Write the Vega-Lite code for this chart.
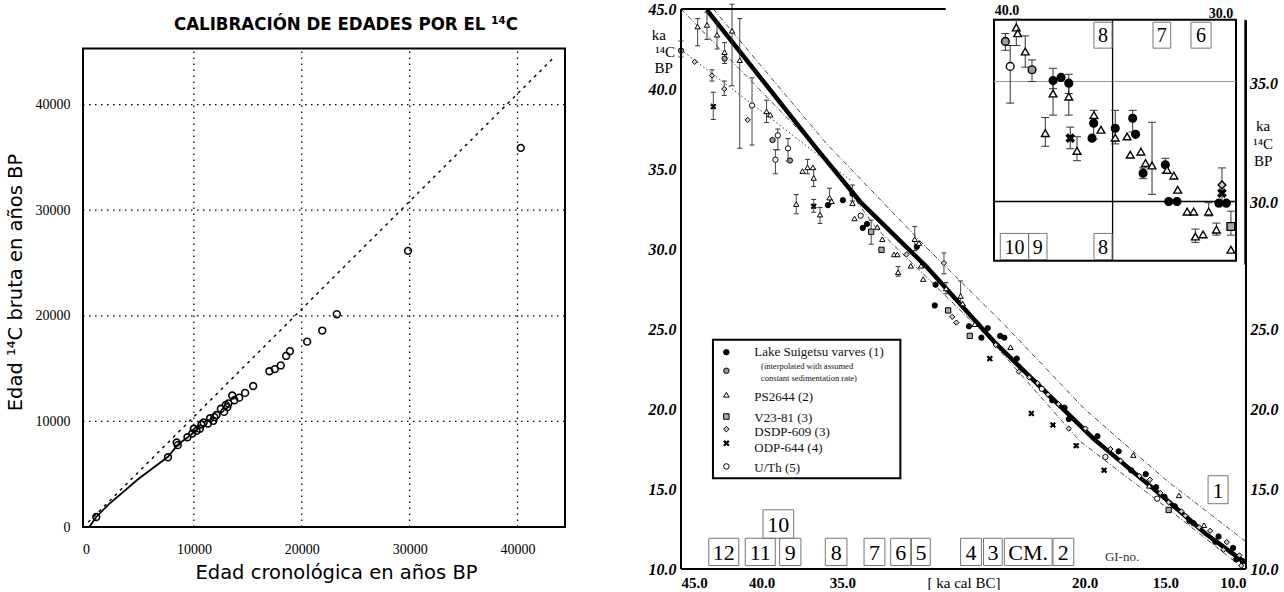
{
"$schema": "https://vega.github.io/schema/vega-lite/v6.json",
"background": "white",
"padding": {"left": 5, "top": 0, "right": 0, "bottom": 0},
"spacing": 82,
"columns": 2,
"align": "none",
"config": {"view": {"stroke": null}, "text": {"font": "Liberation Serif", "color": "black"}},
"datasets": {
"lpts": [{"x":950,"y":950},{"x":7600,"y":6600},{"x":8400,"y":8000},{"x":8500,"y":7750},{"x":9400,"y":8500},{"x":9850,"y":8850},{"x":10000,"y":9300},{"x":10250,"y":9100},{"x":10550,"y":9300},{"x":10700,"y":9700},{"x":10900,"y":9900},{"x":11300,"y":9800},{"x":11500,"y":10300},{"x":11900,"y":10400},{"x":11800,"y":10050},{"x":12100,"y":10600},{"x":12500,"y":11200},{"x":12800,"y":10900},{"x":12950,"y":11550},{"x":13200,"y":11700},{"x":13100,"y":11350},{"x":13550,"y":12450},{"x":13750,"y":12000},{"x":14200,"y":12250},{"x":14750,"y":12700},{"x":15500,"y":13350},{"x":17000,"y":14750},{"x":17500,"y":14950},{"x":18050,"y":15300},{"x":18550,"y":16200},{"x":18900,"y":16650},{"x":20500,"y":17550},{"x":21900,"y":18600},{"x":23250,"y":20150},{"x":29850,"y":26150},{"x":40300,"y":35900}],
"ldash": [{"x":200,"y":450},{"x":43500,"y":44600}],
"lsolid": [{"x":300,"y":0},{"x":950,"y":950},{"x":2100,"y":2150},{"x":4850,"y":4550},{"x":7600,"y":6650},{"x":8500,"y":7800},{"x":9500,"y":8550},{"x":10500,"y":9400}],
"lgx": [{"x":10000,"y":0,"y2":45300},{"x":20000,"y":0,"y2":45300},{"x":30000,"y":0,"y2":45300},{"x":40000,"y":0,"y2":45300}],
"lgy": [{"x":-280,"x2":44400,"y":10000},{"x":-280,"x2":44400,"y":20000},{"x":-280,"x2":44400,"y":30000},{"x":-280,"x2":44400,"y":40000}],
"lframe": [{"x":-280,"x2":44400,"y":0,"y2":45300}],
"vgrid": [{"x":40},{"x":35},{"x":30},{"x":25},{"x":20},{"x":15}],
"hgrid": [{"y":15},{"y":20},{"y":25},{"y":30},{"y":35},{"y":40}],
"frame": [{"x":45,"x2":45,"y":10,"y2":45},{"x":45,"x2":10,"y":10,"y2":10},{"x":10,"x2":10,"y":10,"y2":44.3},{"x":45,"x2":28.6,"y":45,"y2":45}],
"thick": [{"x":43.4,"y":44.95},{"x":36.7,"y":36.4},{"x":33.9,"y":32.95},{"x":29.8,"y":28.9},{"x":25.6,"y":24.2},{"x":19.4,"y":18.1},{"x":15.0,"y":14.4},{"x":12.5,"y":12.2},{"x":10.05,"y":10.4}],
"thin": [{"s":"u","x":43.0,"y":45.0},{"s":"u","x":36.0,"y":36.6},{"s":"u","x":30.0,"y":30.3},{"s":"u","x":25.0,"y":25.3},{"s":"u","x":20.0,"y":20.0},{"s":"u","x":15.0,"y":15.6},{"s":"u","x":10.0,"y":11.7},{"s":"w","x":45.0,"y":45.0},{"s":"w","x":36.4,"y":36.1},{"s":"w","x":32.9,"y":31.3},{"s":"w","x":26.0,"y":24.5},{"s":"w","x":20.3,"y":18.0},{"s":"w","x":15.0,"y":13.9},{"s":"w","x":10.1,"y":10.0}],
"dotl": [{"x":45.0,"y":42.45},{"x":38.64,"y":37.55},{"x":34.5,"y":34.3}],
"rm": [{"x":45.0,"y":42.4,"t":"G","lo":42.0,"hi":43.0},{"x":44.15,"y":41.7,"t":"D"},{"x":43.08,"y":40.84,"t":"D","lo":40.5,"hi":41.2},{"x":42.32,"y":40.0,"t":"D","lo":39.6,"hi":40.5},{"x":43.0,"y":38.9,"t":"X","lo":38.1,"hi":39.8},{"x":43.97,"y":43.9,"t":"T","lo":42.7,"hi":44.4},{"x":43.39,"y":44.0,"t":"T","lo":43.1,"hi":44.8},{"x":42.77,"y":43.39,"t":"T","lo":42.5,"hi":44.2},{"x":42.3,"y":42.3,"t":"T","lo":41.6,"hi":42.9},{"x":42.3,"y":41.9,"t":"G"},{"x":41.84,"y":43.64,"t":"T","lo":40.2,"hi":45.3},{"x":41.36,"y":41.8,"t":"T","lo":36.3,"hi":44.4},{"x":40.6,"y":38.97,"t":"U","lo":36.5,"hi":40.7},{"x":39.7,"y":38.6,"t":"T","lo":37.9,"hi":39.3},{"x":39.47,"y":38.39,"t":"T"},{"x":40.87,"y":38.07,"t":"D"},{"x":39.33,"y":36.81,"t":"G"},{"x":39.0,"y":37.1,"t":"U","lo":36.2,"hi":37.5},{"x":39.15,"y":35.58,"t":"U","lo":34.7,"hi":36.2},{"x":38.37,"y":36.29,"t":"U","lo":35.5,"hi":36.9},{"x":38.25,"y":35.53,"t":"G"},{"x":37.47,"y":34.87,"t":"T"},{"x":37.16,"y":35.1,"t":"T","lo":34.7,"hi":35.6},{"x":36.83,"y":35.1,"t":"T"},{"x":36.78,"y":34.44,"t":"T","lo":33.9,"hi":35.0},{"x":37.86,"y":32.81,"t":"T","lo":32.2,"hi":33.4},{"x":36.78,"y":32.67,"t":"X","lo":32.3,"hi":33.1},{"x":36.39,"y":32.15,"t":"T","lo":31.6,"hi":32.6},{"x":35.8,"y":33.21,"t":"T","lo":32.8,"hi":33.8},{"x":35.67,"y":32.98,"t":"T"},{"x":35.9,"y":32.74,"t":"L"},{"x":34.97,"y":33.05,"t":"L"},{"x":34.38,"y":33.45,"t":"L","lo":33.0,"hi":34.0},{"x":34.38,"y":32.86,"t":"T"},{"x":34.25,"y":31.91,"t":"T"},{"x":33.87,"y":32.08,"t":"U"},{"x":33.74,"y":31.32,"t":"L"},{"x":33.48,"y":31.56,"t":"L"},{"x":33.22,"y":31.08,"t":"S","lo":30.3,"hi":31.8},{"x":32.84,"y":31.37,"t":"T"},{"x":32.53,"y":30.61,"t":"T"},{"x":32.58,"y":29.95,"t":"S"},{"x":31.8,"y":29.66,"t":"T"},{"x":31.6,"y":29.66,"t":"T"},{"x":31.55,"y":28.55,"t":"T","lo":28.3,"hi":28.9},{"x":31.03,"y":29.66,"t":"D"},{"x":30.77,"y":28.95,"t":"T"},{"x":30.52,"y":30.61,"t":"T","lo":29.9,"hi":31.4},{"x":30.39,"y":30.14,"t":"L"},{"x":30.26,"y":30.37,"t":"T"},{"x":30.13,"y":28.95,"t":"T"},{"x":30.0,"y":28.12,"t":"T"},{"x":29.23,"y":27.77,"t":"L"},{"x":28.71,"y":29.12,"t":"D","lo":28.45,"hi":29.75},{"x":28.58,"y":27.53,"t":"T","lo":27.2,"hi":27.9},{"x":29.28,"y":26.47,"t":"L"},{"x":28.45,"y":26.16,"t":"S"},{"x":28.2,"y":25.76,"t":"D"},{"x":27.94,"y":25.4,"t":"D"},{"x":27.68,"y":27.06,"t":"T","lo":26.6,"hi":28.0},{"x":27.55,"y":26.59,"t":"T"},{"x":27.16,"y":25.17,"t":"L"},{"x":27.11,"y":24.57,"t":"S"},{"x":26.39,"y":24.46,"t":"L"},{"x":26.0,"y":25.05,"t":"L"},{"x":26.8,"y":25.3,"t":"T"},{"x":25.23,"y":24.57,"t":"L"},{"x":24.97,"y":24.46,"t":"L"},{"x":25.5,"y":24.0,"t":"D"},{"x":25.87,"y":23.15,"t":"X"},{"x":24.59,"y":23.86,"t":"T"},{"x":24.2,"y":23.15,"t":"L"},{"x":24.07,"y":22.33,"t":"D"},{"x":23.43,"y":21.97,"t":"D"},{"x":22.91,"y":21.62,"t":"D"},{"x":22.65,"y":21.26,"t":"U"},{"x":22.27,"y":20.9,"t":"D"},{"x":22.0,"y":20.55,"t":"L"},{"x":21.62,"y":20.31,"t":"D"},{"x":21.24,"y":20.08,"t":"L"},{"x":23.3,"y":19.72,"t":"X"},{"x":21.96,"y":19.0,"t":"X"},{"x":20.98,"y":18.78,"t":"D"},{"x":20.98,"y":19.37,"t":"L"},{"x":20.52,"y":17.71,"t":"X"},{"x":19.95,"y":18.78,"t":"D"},{"x":19.2,"y":18.3,"t":"L"},{"x":18.4,"y":17.5,"t":"D"},{"x":18.79,"y":16.17,"t":"X"},{"x":18.71,"y":17.0,"t":"U"},{"x":17.89,"y":17.35,"t":"L"},{"x":17.76,"y":16.76,"t":"D"},{"x":16.98,"y":17.12,"t":"T"},{"x":17.11,"y":16.17,"t":"L"},{"x":16.6,"y":15.82,"t":"D"},{"x":16.21,"y":15.93,"t":"L"},{"x":16.0,"y":15.2,"t":"T"},{"x":15.95,"y":15.58,"t":"D"},{"x":15.57,"y":15.11,"t":"L"},{"x":15.5,"y":14.4,"t":"U"},{"x":15.31,"y":14.75,"t":"D"},{"x":15.05,"y":14.51,"t":"L"},{"x":14.79,"y":14.16,"t":"D"},{"x":14.41,"y":13.92,"t":"L"},{"x":14.15,"y":14.6,"t":"T"},{"x":14.79,"y":13.69,"t":"S"},{"x":14.0,"y":13.6,"t":"D"},{"x":13.76,"y":13.33,"t":"D"},{"x":13.5,"y":13.0,"t":"L"},{"x":13.25,"y":12.86,"t":"L"},{"x":12.9,"y":12.6,"t":"D"},{"x":12.6,"y":12.74,"t":"T"},{"x":12.22,"y":12.39,"t":"D"},{"x":11.9,"y":11.7,"t":"L"},{"x":11.7,"y":12.03,"t":"L"},{"x":11.4,"y":11.2,"t":"D"},{"x":11.19,"y":11.68,"t":"D"},{"x":10.8,"y":11.32,"t":"L"},{"x":10.6,"y":10.6,"t":"L"},{"x":10.41,"y":10.85,"t":"D"},{"x":10.3,"y":10.2,"t":"D"},{"x":10.21,"y":10.49,"t":"L"}],
"lgbox": [{"x":43.02,"x2":31.41,"y":24.33,"y2":15.67}],
"lgsym": [{"x":42.19,"y":23.55,"t":"L"},{"x":42.19,"y":22.39,"t":"G"},{"x":42.19,"y":20.89,"t":"T"},{"x":42.19,"y":19.53,"t":"S"},{"x":42.19,"y":18.74,"t":"D"},{"x":42.19,"y":17.86,"t":"X"},{"x":42.19,"y":16.41,"t":"U"}],
"lgtxt": [{"x":40.46,"y":23.55,"label":"Lake Suigetsu varves (1)"},{"x":40.46,"y":20.78,"label":"PS2644 (2)"},{"x":40.46,"y":19.43,"label":"V23-81 (3)"},{"x":40.46,"y":18.59,"label":"DSDP-609 (3)"},{"x":40.46,"y":17.59,"label":"ODP-644 (4)"},{"x":40.46,"y":16.34,"label":"U/Th (5)"}],
"lgnote": [{"x":40.04,"y":22.70,"label":"(interpolated with assumed"},{"x":40.04,"y":21.93,"label":"constant sedimentation rate)"}],
"gibox": [{"x":43.28,"x2":41.42,"y":11.92,"y2":10.22,"cx":42.35,"cy":11.07,"label":"12"},{"x":41.02,"x2":39.16,"y":11.92,"y2":10.22,"cx":40.09,"cy":11.07,"label":"11"},{"x":38.89,"x2":37.57,"y":11.92,"y2":10.22,"cx":38.23,"cy":11.07,"label":"9"},{"x":39.92,"x2":38.02,"y":13.7,"y2":11.92,"cx":38.97,"cy":12.81,"label":"10"},{"x":36.06,"x2":34.72,"y":11.92,"y2":10.22,"cx":35.39,"cy":11.07,"label":"8"},{"x":33.66,"x2":32.37,"y":11.92,"y2":10.22,"cx":33.02,"cy":11.07,"label":"7"},{"x":32.01,"x2":30.77,"y":11.92,"y2":10.22,"cx":31.39,"cy":11.07,"label":"6"},{"x":30.72,"x2":29.56,"y":11.92,"y2":10.22,"cx":30.14,"cy":11.07,"label":"5"},{"x":27.68,"x2":26.39,"y":11.92,"y2":10.22,"cx":27.04,"cy":11.07,"label":"4"},{"x":26.26,"x2":25.1,"y":11.92,"y2":10.22,"cx":25.68,"cy":11.07,"label":"3"},{"x":24.97,"x2":22.01,"y":11.92,"y2":10.22,"cx":23.49,"cy":11.07,"label":"CM."},{"x":21.96,"x2":20.67,"y":11.92,"y2":10.22,"cx":21.32,"cy":11.07,"label":"2"},{"x":12.35,"x2":11.11,"y":15.83,"y2":14.08,"cx":11.73,"cy":14.95,"label":"1"}],
"kal": [{"x":46.38,"y":43.39,"label":"ka"},{"x":45.99,"y":42.34,"label":"¹⁴C"},{"x":46.07,"y":41.34,"label":"BP"}],
"gino": [{"x":17.68,"y":10.78,"label":"GI-no."}],
"ifr": [{"x":40,"x2":30,"y":37.57,"y2":27.53}],
"igk": [{"x":35.1,"x2":35.1,"y":27.53,"y2":37.57},{"x":40,"x2":30,"y":30,"y2":30},{"x":29.63,"x2":29.63,"y":37.57,"y2":27.36}],
"igg": [{"x":40,"x2":30,"y":35,"y2":35}],
"ibox": [{"x":35.87,"x2":35.12,"y":37.47,"y2":36.39,"cx":35.5,"cy":36.93,"label":"8"},{"x":33.43,"x2":32.7,"y":37.47,"y2":36.39,"cx":33.07,"cy":36.93,"label":"7"},{"x":31.86,"x2":31.03,"y":37.47,"y2":36.39,"cx":31.45,"cy":36.93,"label":"6"},{"x":39.74,"x2":38.57,"y":28.67,"y2":27.58,"cx":39.15,"cy":28.12,"label":"10"},{"x":38.57,"x2":37.81,"y":28.67,"y2":27.58,"cx":38.19,"cy":28.12,"label":"9"},{"x":35.87,"x2":35.12,"y":28.67,"y2":27.58,"cx":35.5,"cy":28.12,"label":"8"}],
"ipts": [{"x":39.53,"y":36.67,"t":"G","lo":36.3,"hi":37.0},{"x":39.08,"y":37.25,"t":"T","lo":36.5,"hi":37.6},{"x":39.02,"y":37.01,"t":"T"},{"x":39.33,"y":35.63,"t":"U","lo":34.1,"hi":36.5},{"x":38.71,"y":36.25,"t":"T","lo":35.6,"hi":36.9},{"x":38.43,"y":35.49,"t":"G","lo":35.0,"hi":35.9},{"x":37.56,"y":35.04,"t":"L","lo":34.7,"hi":35.55},{"x":37.23,"y":35.17,"t":"L"},{"x":36.91,"y":34.93,"t":"L","lo":34.5,"hi":35.3},{"x":37.56,"y":34.5,"t":"T","lo":33.6,"hi":35.1},{"x":36.91,"y":34.37,"t":"T","lo":33.6,"hi":34.9},{"x":37.88,"y":32.85,"t":"T","lo":32.3,"hi":33.5},{"x":36.85,"y":32.64,"t":"X","lo":32.2,"hi":33.1},{"x":36.57,"y":32.11,"t":"T","lo":31.7,"hi":32.7},{"x":35.95,"y":32.64,"t":"L"},{"x":35.88,"y":33.26,"t":"L","lo":32.6,"hi":33.8},{"x":35.87,"y":33.6,"t":"T"},{"x":35.58,"y":32.99,"t":"T"},{"x":34.99,"y":33.05,"t":"L","lo":32.4,"hi":33.8},{"x":34.99,"y":32.66,"t":"T"},{"x":34.5,"y":32.71,"t":"T"},{"x":34.27,"y":33.47,"t":"L","lo":32.9,"hi":33.8},{"x":34.15,"y":32.8,"t":"L"},{"x":34.37,"y":31.95,"t":"T"},{"x":33.93,"y":32.08,"t":"T"},{"x":33.84,"y":31.18,"t":"L","lo":30.95,"hi":31.4},{"x":33.74,"y":31.6,"t":"T"},{"x":33.47,"y":31.5,"t":"T","lo":30.3,"hi":33.3},{"x":32.92,"y":31.53,"t":"L","lo":31.2,"hi":31.8},{"x":32.85,"y":31.32,"t":"T"},{"x":32.57,"y":31.08,"t":"T"},{"x":32.41,"y":30.49,"t":"T"},{"x":32.78,"y":30.0,"t":"L"},{"x":32.44,"y":30.0,"t":"L"},{"x":32.02,"y":29.58,"t":"T"},{"x":31.75,"y":29.58,"t":"T"},{"x":31.13,"y":29.58,"t":"T","lo":29.4,"hi":29.95},{"x":31.68,"y":28.54,"t":"T","lo":28.3,"hi":28.85},{"x":31.36,"y":28.63,"t":"T"},{"x":30.81,"y":28.83,"t":"T","lo":28.6,"hi":29.1},{"x":30.71,"y":29.93,"t":"L"},{"x":30.4,"y":29.93,"t":"L"},{"x":30.58,"y":30.69,"t":"D","lo":29.9,"hi":31.4},{"x":30.58,"y":30.35,"t":"X"},{"x":30.21,"y":28.96,"t":"S","lo":28.6,"hi":29.6},{"x":30.21,"y":27.99,"t":"T"}],
"itop": [{"x":39.46,"y":37.92,"label":"40.0"},{"x":30.62,"y":37.83,"label":"30.0"}],
"iright": [{"x":29.42,"y":34.88,"label":"35.0"},{"x":29.42,"y":29.93,"label":"30.0"}],
"ika": [{"x":28.88,"y":33.13,"label":"ka"},{"x":28.88,"y":32.38,"label":"¹⁴C"},{"x":28.88,"y":31.67,"label":"BP"}]
},
"concat": [
{
 "width": 482, "height": 518,
 "title": {"text": "CALIBRACIÓN DE EDADES POR EL ¹⁴C", "font": "DejaVu Sans Condensed", "fontSize": 18.5, "fontWeight": "bold", "offset": -24.5, "anchor": "middle", "frame": "group", "dx": 22, "color": "black"},
 "encoding": {
  "x": {"field": "x", "type": "quantitative", "scale": {"domain": [-280, 44400], "nice": false, "zero": false},
        "axis": {"values": [0, 10000, 20000, 30000, 40000], "format": "d", "title": "Edad cronológica en años BP", "titleX": 253, "grid": false, "domain": false, "ticks": false, "labelFlush": false, "labelFont": "Liberation Sans Narrow", "labelFontSize": 14, "labelPadding": 15, "labelColor": "black", "titleFont": "DejaVu Sans", "titleFontSize": 19.5, "titleFontWeight": "normal", "titlePadding": 7, "titleColor": "black"}},
  "y": {"field": "y", "type": "quantitative", "scale": {"domain": [0, 49050], "nice": false, "zero": false},
        "axis": {"values": [0, 10000, 20000, 30000, 40000], "format": "d", "title": "Edad ¹⁴C bruta en años BP", "titleY": 273, "grid": false, "domain": false, "ticks": false, "labelFont": "Liberation Sans Narrow", "labelFontSize": 14, "labelPadding": 13, "labelColor": "black", "titleFont": "DejaVu Sans", "titleFontSize": 19.5, "titleFontWeight": "normal", "titlePadding": 10, "titleColor": "black"}}
 },
 "layer": [
  {"data": {"name": "lgx"}, "mark": {"type": "rule", "stroke": "black", "strokeWidth": 1.3, "strokeDash": [1.5, 4.5]}, "encoding": {"y2": {"field": "y2"}}},
  {"data": {"name": "lgy"}, "mark": {"type": "rule", "stroke": "black", "strokeWidth": 1.3, "strokeDash": [1.5, 4.5]}, "encoding": {"x2": {"field": "x2"}}},
  {"data": {"name": "lframe"}, "mark": {"type": "rect", "fill": "white", "fillOpacity": 0, "stroke": "black", "strokeWidth": 2}, "encoding": {"x2": {"field": "x2"}, "y2": {"field": "y2"}}},
  {"data": {"name": "ldash"}, "mark": {"type": "line", "stroke": "black", "strokeWidth": 1.4, "strokeDash": [3, 4.5]}},
  {"data": {"name": "lsolid"}, "mark": {"type": "line", "stroke": "black", "strokeWidth": 1.8}},
  {"data": {"name": "lpts"}, "mark": {"type": "point", "shape": "circle", "size": 46, "filled": false, "color": "black", "strokeWidth": 1.6, "opacity": 1}}
 ]
},
{
 "width": 565, "height": 560,
 "resolve": {"scale": {"x": "independent", "y": "independent"}},
 "layer": [
  {
   "encoding": {
    "x": {"field": "x", "type": "quantitative", "scale": {"domain": [10, 45], "reverse": true, "nice": false, "zero": false},
          "axis": {"values": [45, 40, 35, 27.5, 20, 15, 10], "labelExpr": "datum.value == 27.5 ? '[ ka cal BC]' : format(datum.value, '.1f')", "labelFontWeight": {"condition": {"test": "datum.value == 27.5", "value": "normal"}, "value": "bold"}, "labelFont": "Liberation Serif", "labelFontSize": 15, "labelColor": "black", "labelPadding": 6, "labelFlush": true, "labelOverlap": false, "domain": false, "ticks": false, "grid": false, "title": null}},
    "y": {"field": "y", "type": "quantitative", "scale": {"domain": [10, 45], "nice": false, "zero": false}, "axis": null}
   },
   "resolve": {"axis": {"y": "independent"}},
   "layer": [
    {"data": {"name": "vgrid"}, "mark": {"type": "rule", "stroke": "#666", "strokeWidth": 1},
     "encoding": {
      "y": {"datum": 10, "type": "quantitative", "scale": {"domain": [10, 45], "nice": false, "zero": false},
            "axis": {"orient": "left", "values": [10, 15, 20, 25, 30, 35, 40, 45], "format": ".1f", "labelFont": "Liberation Serif", "labelFontSize": 16, "labelFontWeight": "bold", "labelFontStyle": "italic", "labelColor": "black", "labelPadding": 5, "domain": false, "ticks": false, "grid": false, "title": null}},
      "y2": {"datum": 45}
     }},
    {"data": {"name": "hgrid"}, "mark": {"type": "rule", "stroke": "#888", "strokeWidth": 1, "strokeDash": [2, 2]},
     "encoding": {
      "y": {"field": "y", "type": "quantitative", "scale": {"domain": [10, 45], "nice": false, "zero": false},
            "axis": {"orient": "right", "values": [10, 15, 20, 25], "format": ".1f", "labelFont": "Liberation Serif", "labelFontSize": 16, "labelFontWeight": "bold", "labelFontStyle": "italic", "labelColor": "black", "labelPadding": 4, "domain": false, "ticks": false, "grid": false, "title": null}},
      "x": {"datum": 45, "type": "quantitative", "scale": {"domain": [10, 45], "reverse": true, "nice": false, "zero": false},
            "axis": {"values": [45, 40, 35, 27.5, 20, 15, 10], "labelExpr": "datum.value == 27.5 ? '[ ka cal BC]' : format(datum.value, '.1f')", "labelFontWeight": {"condition": {"test": "datum.value == 27.5", "value": "normal"}, "value": "bold"}, "labelFont": "Liberation Serif", "labelFontSize": 15, "labelColor": "black", "labelPadding": 6, "labelFlush": true, "labelOverlap": false, "domain": false, "ticks": false, "grid": false, "title": null}},
      "x2": {"datum": 10}
     }},
    {"data": {"name": "thin"}, "mark": {"type": "line", "stroke": "#333", "strokeWidth": 0.9, "strokeDash": [5, 2, 1, 2]}, "encoding": {"detail": {"field": "s"}}},
    {"data": {"name": "dotl"}, "mark": {"type": "line", "stroke": "#333", "strokeWidth": 1, "strokeDash": [1.5, 2.5]}},
    {"data": {"name": "thick"}, "mark": {"type": "line", "stroke": "black", "strokeWidth": 4.5}},
    {"data": {"name": "rm"}, "mark": {"type": "rule", "stroke": "#333", "strokeWidth": 0.9},
     "encoding": {"y": {"field": "lo", "type": "quantitative", "scale": {"domain": [10, 45], "nice": false, "zero": false}, "axis": null}, "y2": {"field": "hi"}}},
    {"data": {"name": "rm"}, "mark": {"type": "tick", "orient": "horizontal", "size": 5, "thickness": 1, "color": "#333", "opacity": 1},
     "encoding": {"y": {"field": "hi", "type": "quantitative", "scale": {"domain": [10, 45], "nice": false, "zero": false}, "axis": null}}},
    {"data": {"name": "rm"}, "mark": {"type": "tick", "orient": "horizontal", "size": 5, "thickness": 1, "color": "#333", "opacity": 1},
     "encoding": {"y": {"field": "lo", "type": "quantitative", "scale": {"domain": [10, 45], "nice": false, "zero": false}, "axis": null}}},
    {"data": {"name": "rm"}, "mark": {"type": "point", "filled": true, "size": 28, "stroke": "black", "strokeWidth": 1, "opacity": 1},
     "encoding": {
      "shape": {"field": "t", "type": "nominal", "legend": null, "scale": {"domain": ["L", "G", "T", "S", "D", "X", "U"], "range": ["circle", "circle", "triangle-up", "square", "diamond", "M-1,-0.6L-0.6,-1L0,-0.4L0.6,-1L1,-0.6L0.4,0L1,0.6L0.6,1L0,0.4L-0.6,1L-1,0.6L-0.4,0Z", "circle"]}},
      "fill": {"field": "t", "type": "nominal", "legend": null, "scale": {"domain": ["L", "G", "T", "S", "D", "X", "U"], "range": ["black", "#999", "white", "#aaa", "#ccc", "black", "white"]}}
     }},
    {"data": {"name": "frame"}, "mark": {"type": "rule", "stroke": "black", "strokeWidth": 2},
     "encoding": {"x2": {"field": "x2"}, "y2": {"field": "y2"}}},
    {"data": {"name": "lgbox"}, "mark": {"type": "rect", "fill": "white", "stroke": "black", "strokeWidth": 2},
     "encoding": {"x2": {"field": "x2"}, "y2": {"field": "y2"}}},
    {"data": {"name": "lgsym"}, "mark": {"type": "point", "filled": true, "size": 30, "stroke": "black", "strokeWidth": 1, "opacity": 1},
     "encoding": {
      "shape": {"field": "t", "type": "nominal", "legend": null, "scale": {"domain": ["L", "G", "T", "S", "D", "X", "U"], "range": ["circle", "circle", "triangle-up", "square", "diamond", "M-1,-0.6L-0.6,-1L0,-0.4L0.6,-1L1,-0.6L0.4,0L1,0.6L0.6,1L0,0.4L-0.6,1L-1,0.6L-0.4,0Z", "circle"]}},
      "fill": {"field": "t", "type": "nominal", "legend": null, "scale": {"domain": ["L", "G", "T", "S", "D", "X", "U"], "range": ["black", "#999", "white", "#aaa", "#ccc", "black", "white"]}}
     }},
    {"data": {"name": "lgtxt"}, "mark": {"type": "text", "align": "left", "baseline": "middle", "fontSize": 13, "font": "Liberation Serif", "color": "#111"}, "encoding": {"text": {"field": "label"}}},
    {"data": {"name": "lgnote"}, "mark": {"type": "text", "align": "left", "baseline": "middle", "fontSize": 8.5, "font": "Liberation Serif", "color": "#111"}, "encoding": {"text": {"field": "label"}}},
    {"data": {"name": "gibox"}, "mark": {"type": "rect", "fill": "white", "fillOpacity": 0, "stroke": "#777", "strokeWidth": 1},
     "encoding": {"x2": {"field": "x2"}, "y2": {"field": "y2"}}},
    {"data": {"name": "gibox"}, "mark": {"type": "text", "align": "center", "baseline": "middle", "fontSize": 22, "font": "Liberation Serif", "dy": 1, "color": "black"},
     "encoding": {
      "x": {"field": "cx", "type": "quantitative", "scale": {"domain": [10, 45], "reverse": true, "nice": false, "zero": false},
            "axis": {"values": [45, 40, 35, 27.5, 20, 15, 10], "labelExpr": "datum.value == 27.5 ? '[ ka cal BC]' : format(datum.value, '.1f')", "labelFontWeight": {"condition": {"test": "datum.value == 27.5", "value": "normal"}, "value": "bold"}, "labelFont": "Liberation Serif", "labelFontSize": 15, "labelColor": "black", "labelPadding": 6, "labelFlush": true, "labelOverlap": false, "domain": false, "ticks": false, "grid": false, "title": null}},
      "y": {"field": "cy", "type": "quantitative", "scale": {"domain": [10, 45], "nice": false, "zero": false}, "axis": null},
      "text": {"field": "label"}}},
    {"data": {"name": "kal"}, "mark": {"type": "text", "align": "center", "baseline": "middle", "fontSize": 15, "font": "Liberation Serif", "color": "black"}, "encoding": {"text": {"field": "label"}}},
    {"data": {"name": "gino"}, "mark": {"type": "text", "align": "center", "baseline": "middle", "fontSize": 13, "font": "Liberation Serif", "color": "#333"}, "encoding": {"text": {"field": "label"}}}
   ]
  },
  {
   "encoding": {
    "x": {"field": "x", "type": "quantitative", "scale": {"domain": [29.587, 52.934], "reverse": true, "nice": false, "zero": false}, "axis": null},
    "y": {"field": "y", "type": "quantitative", "scale": {"domain": [14.688, 38.021], "nice": false, "zero": false}, "axis": null}
   },
   "layer": [
    {"data": {"name": "ifr"}, "mark": {"type": "rect", "fill": "white", "stroke": "black", "strokeWidth": 2},
     "encoding": {"x2": {"field": "x2"}, "y2": {"field": "y2"}}},
    {"data": {"name": "igg"}, "mark": {"type": "rule", "stroke": "#999", "strokeWidth": 1},
     "encoding": {"x2": {"field": "x2"}, "y2": {"field": "y2"}}},
    {"data": {"name": "igk"}, "mark": {"type": "rule", "stroke": "black", "strokeWidth": 1.3},
     "encoding": {"x2": {"field": "x2"}, "y2": {"field": "y2"}}},
    {"data": {"name": "ibox"}, "mark": {"type": "rect", "fill": "white", "fillOpacity": 0, "stroke": "#777", "strokeWidth": 1},
     "encoding": {"x2": {"field": "x2"}, "y2": {"field": "y2"}}},
    {"data": {"name": "ibox"}, "mark": {"type": "text", "align": "center", "baseline": "middle", "fontSize": 20, "font": "Liberation Serif", "dy": 1, "color": "black"},
     "encoding": {
      "x": {"field": "cx", "type": "quantitative", "scale": {"domain": [29.587, 52.934], "reverse": true, "nice": false, "zero": false}, "axis": null},
      "y": {"field": "cy", "type": "quantitative", "scale": {"domain": [14.688, 38.021], "nice": false, "zero": false}, "axis": null},
      "text": {"field": "label"}}},
    {"data": {"name": "ipts"}, "mark": {"type": "rule", "stroke": "#333", "strokeWidth": 1},
     "encoding": {"y": {"field": "lo", "type": "quantitative", "scale": {"domain": [14.688, 38.021], "nice": false, "zero": false}, "axis": null}, "y2": {"field": "hi"}}},
    {"data": {"name": "ipts"}, "mark": {"type": "tick", "orient": "horizontal", "size": 8, "thickness": 1, "color": "#333", "opacity": 1},
     "encoding": {"y": {"field": "hi", "type": "quantitative", "scale": {"domain": [14.688, 38.021], "nice": false, "zero": false}, "axis": null}}},
    {"data": {"name": "ipts"}, "mark": {"type": "tick", "orient": "horizontal", "size": 8, "thickness": 1, "color": "#333", "opacity": 1},
     "encoding": {"y": {"field": "lo", "type": "quantitative", "scale": {"domain": [14.688, 38.021], "nice": false, "zero": false}, "axis": null}}},
    {"data": {"name": "ipts"}, "mark": {"type": "point", "filled": true, "size": 60, "stroke": "black", "strokeWidth": 1.4, "opacity": 1},
     "encoding": {
      "shape": {"field": "t", "type": "nominal", "legend": null, "scale": {"domain": ["L", "G", "T", "S", "D", "X", "U"], "range": ["circle", "circle", "triangle-up", "square", "diamond", "M-1,-0.6L-0.6,-1L0,-0.4L0.6,-1L1,-0.6L0.4,0L1,0.6L0.6,1L0,0.4L-0.6,1L-1,0.6L-0.4,0Z", "circle"]}},
      "fill": {"field": "t", "type": "nominal", "legend": null, "scale": {"domain": ["L", "G", "T", "S", "D", "X", "U"], "range": ["black", "#999", "white", "#aaa", "#ccc", "black", "white"]}}
     }},
    {"data": {"name": "itop"}, "mark": {"type": "text", "align": "center", "baseline": "middle", "fontSize": 14, "fontWeight": "bold", "font": "Liberation Serif", "color": "black"}, "encoding": {"text": {"field": "label"}}},
    {"data": {"name": "iright"}, "mark": {"type": "text", "align": "left", "baseline": "middle", "fontSize": 16, "fontWeight": "bold", "fontStyle": "italic", "font": "Liberation Serif", "color": "black"}, "encoding": {"text": {"field": "label"}}},
    {"data": {"name": "ika"}, "mark": {"type": "text", "align": "center", "baseline": "middle", "fontSize": 15, "font": "Liberation Serif", "color": "black"}, "encoding": {"text": {"field": "label"}}}
   ]
  }
 ]
}
]
}
